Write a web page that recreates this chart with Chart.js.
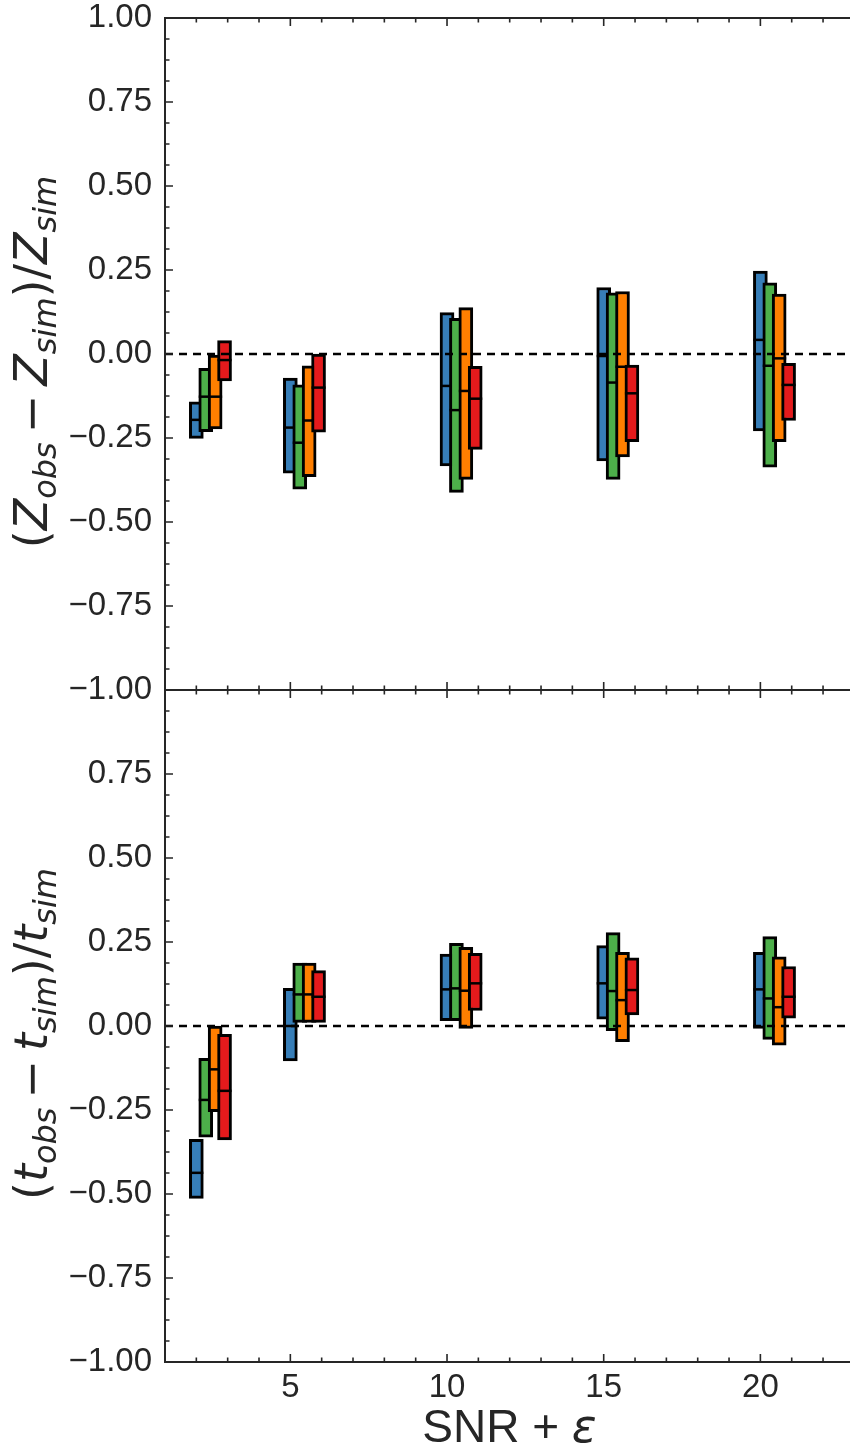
<!DOCTYPE html>
<html>
<head>
<meta charset="utf-8">
<script src="https://cdn.jsdelivr.net/npm/chart.js@4/dist/chart.umd.min.js"></script>
<style>
  html, body { margin: 0; padding: 0; background: #fff; overflow: hidden; }
  #wrap { position: relative; width: 850px; height: 1450px; }
  canvas { position: absolute; left: 0; }
  #topChart { top: 0; }
  #bottomChart { top: 680px; }
</style>
</head>
<body>
<div id="wrap">
  <canvas id="topChart" width="850" height="712"></canvas>
  <canvas id="bottomChart" width="850" height="770"></canvas>
</div>
<script>
// x positions: SNR value plus a small shift (epsilon) for each series
const snrValues = [2, 5, 10, 15, 20];
const epsilons = [0, 0.3, 0.6, 0.9];
const seriesColors = ['#377eb8', '#4daf4a', '#ff7f00', '#e41a1c'];

const xTicks = [5, 10, 15, 20];
const yTicks = [-1, -0.75, -0.5, -0.25, 0, 0.25, 0.5, 0.75, 1];

// top panel: (Z_obs - Z_sim)/Z_sim, one row per series (blue, green, orange, red)
const zLow = [
  [-0.251, -0.355, -0.333, -0.318, -0.229],
  [-0.231, -0.402, -0.412, -0.373, -0.337],
  [-0.223, -0.365, -0.373, -0.306, -0.261],
  [-0.080, -0.233, -0.284, -0.261, -0.198]
];
const zHigh = [
  [-0.142, -0.072, 0.123, 0.198, 0.247],
  [-0.043, -0.092, 0.106, 0.182, 0.212],
  [-0.003, -0.035, 0.138, 0.186, 0.178],
  [0.040, 0.000, -0.037, -0.033, -0.028]
];
const zMed = [
  [-0.196, -0.219, -0.095, -0.006, 0.042],
  [-0.127, -0.264, -0.167, -0.085, -0.035],
  [-0.127, -0.198, -0.110, -0.038, -0.013],
  [-0.018, -0.100, -0.133, -0.117, -0.092]
];

// bottom panel: (t_obs - t_sim)/t_sim
const tLow = [
  [-0.513, -0.104, 0.016, 0.020, -0.007],
  [-0.331, 0.011, 0.016, -0.014, -0.040],
  [-0.255, 0.011, -0.007, -0.047, -0.057],
  [-0.339, 0.011, 0.046, 0.033, 0.023]
];
const tHigh = [
  [-0.337, 0.112, 0.214, 0.239, 0.219],
  [-0.096, 0.187, 0.246, 0.278, 0.266],
  [0.000, 0.187, 0.234, 0.219, 0.206],
  [-0.025, 0.165, 0.216, 0.203, 0.177]
];
const tMed = [
  [-0.437, 0.000, 0.109, 0.127, 0.109],
  [-0.220, 0.094, 0.112, 0.104, 0.082],
  [-0.129, 0.094, 0.105, 0.077, 0.056],
  [-0.193, 0.087, 0.127, 0.107, 0.087]
];

const ink = '#262626';
const tickFont = { family: '"Liberation Sans", Arial, sans-serif', size: 33 };

function buildDatasets(low, high, med) {
  const sets = [];
  epsilons.forEach((eps, s) => {
    sets.push({
      type: 'bar',
      data: snrValues.map((snr, i) => ({ x: snr + eps, y: [low[s][i], high[s][i]] })),
      backgroundColor: seriesColors[s],
      borderColor: '#000',
      borderWidth: 3,
      borderSkipped: false,
      barThickness: 14,
      grouped: false,
      order: 8 - 2 * s
    });
    sets.push({
      type: 'scatter',
      data: snrValues.map((snr, i) => ({ x: snr + eps, y: med[s][i] })),
      pointStyle: 'line',
      pointRadius: 7,
      pointBorderWidth: 2.5,
      borderColor: '#000',
      order: 7 - 2 * s
    });
  });
  return sets;
}

function mathParts(sym) {
  const big = '46px "DejaVu Sans"';
  const it = 'italic 46px "DejaVu Sans"';
  const sub = 'italic 32px "DejaVu Sans"';
  return [
    { text: '(', font: big },
    { text: sym, font: it },
    { text: 'obs', font: sub, dy: 9, gap: 9 },
    { text: '\u2212', font: big, gap: 9 },
    { text: sym, font: it },
    { text: 'sim', font: sub, dy: 9 },
    { text: ')/', font: big },
    { text: sym, font: it },
    { text: 'sim', font: sub, dy: 9 }
  ];
}

function drawParts(ctx, parts) {
  let total = 0;
  parts.forEach(p => { ctx.font = p.font; total += ctx.measureText(p.text).width + (p.gap || 0); });
  let x = -total / 2;
  parts.forEach(p => {
    ctx.font = p.font;
    ctx.fillText(p.text, x, p.dy || 0);
    x += ctx.measureText(p.text).width + (p.gap || 0);
  });
}

// spines, inward ticks, dashed zero line and axis labels
const framePlugin = {
  id: 'frame',
  afterDatasetsDraw(chart, args, opts) {
    const { ctx, chartArea: a, scales: { x, y } } = chart;
    ctx.save();
    const y0 = y.getPixelForValue(0);
    ctx.setLineDash([8, 6]);
    ctx.lineWidth = 2.5;
    ctx.strokeStyle = '#000';
    ctx.beginPath();
    ctx.moveTo(a.left, y0);
    ctx.lineTo(a.right, y0);
    ctx.stroke();
    ctx.setLineDash([]);

    ctx.strokeStyle = ink;
    ctx.lineWidth = 2;
    ctx.beginPath();
    ctx.moveTo(a.right + 2, a.top);
    ctx.lineTo(a.left, a.top);
    ctx.lineTo(a.left, a.bottom);
    ctx.lineTo(a.right + 2, a.bottom);
    ctx.stroke();

    ctx.lineWidth = 1.6;
    ctx.beginPath();
    for (let i = 1; i < 32; i++) {
      const v = -1 + i * 0.0625;
      const len = i % 4 === 0 ? 8 : 4.5;
      const py = y.getPixelForValue(v);
      ctx.moveTo(a.left, py);
      ctx.lineTo(a.left + len, py);
    }
    for (let v = Math.ceil(x.min); v <= x.max; v++) {
      if (v <= x.min) continue;
      const len = v % 5 === 0 ? 8 : 4.5;
      const px = x.getPixelForValue(v);
      ctx.moveTo(px, a.bottom);
      ctx.lineTo(px, a.bottom - len);
      ctx.moveTo(px, a.top);
      ctx.lineTo(px, a.top + len);
    }
    ctx.stroke();

    ctx.fillStyle = ink;
    ctx.textBaseline = 'alphabetic';
    ctx.save();
    ctx.translate(47, (a.top + a.bottom) / 2 + 8);
    ctx.rotate(-Math.PI / 2);
    drawParts(ctx, mathParts(opts.symbol));
    ctx.restore();

    if (opts.xTitle) {
      const parts = [
        { text: 'SNR + ', font: '46px "Liberation Sans", Arial, sans-serif' },
        { text: '\u03b5', font: 'italic 46px "DejaVu Sans"' }
      ];
      ctx.save();
      ctx.translate((a.left + a.right) / 2 + 2, a.bottom + 80);
      drawParts(ctx, parts);
      ctx.restore();
    }
    ctx.restore();
  }
};

function noPad(s) {
  s.paddingTop = 0;
  s.paddingBottom = 0;
  s.paddingLeft = 0;
  s.paddingRight = 0;
}

function makeChart(canvas, low, high, med, symbol, isBottom) {
  return new Chart(canvas, {
    type: 'bar',
    data: { datasets: buildDatasets(low, high, med) },
    options: {
      responsive: false,
      devicePixelRatio: 1,
      animation: false,
      events: [],
      layout: {
        autoPadding: false,
        padding: isBottom ? { top: 10, right: 0, bottom: 0, left: 0 } : { top: 18, right: 0, bottom: 22, left: 0 }
      },
      plugins: {
        legend: { display: false },
        tooltip: { enabled: false },
        frame: { symbol: symbol, xTitle: isBottom }
      },
      scales: {
        x: {
          type: 'linear',
          display: isBottom,
          min: 1,
          max: 22.86,
          offset: false,
          grid: { display: false, drawTicks: false },
          border: { display: false },
          afterBuildTicks: s => { s.ticks = xTicks.map(v => ({ value: v })); },
          afterFit: s => { s.height = isBottom ? 88 : 0; noPad(s); },
          ticks: {
            autoSkip: false,
            maxRotation: 0,
            padding: 6,
            color: ink,
            font: tickFont,
            callback: v => String(v)
          }
        },
        y: {
          min: -1,
          max: 1,
          grid: { display: false, drawTicks: false },
          border: { display: false },
          afterBuildTicks: s => { s.ticks = yTicks.map(v => ({ value: v })); },
          afterFit: s => { s.width = 165; noPad(s); },
          ticks: {
            autoSkip: false,
            padding: 13,
            color: ink,
            font: tickFont,
            callback: v => {
              if (isBottom && v === 1) return '';
              return (v < 0 ? '\u2212' : '') + Math.abs(v).toFixed(2);
            }
          }
        }
      }
    },
    plugins: [framePlugin]
  });
}

makeChart(document.getElementById('topChart'), zLow, zHigh, zMed, 'Z', false);
makeChart(document.getElementById('bottomChart'), tLow, tHigh, tMed, 't', true);
</script>
</body>
</html>
